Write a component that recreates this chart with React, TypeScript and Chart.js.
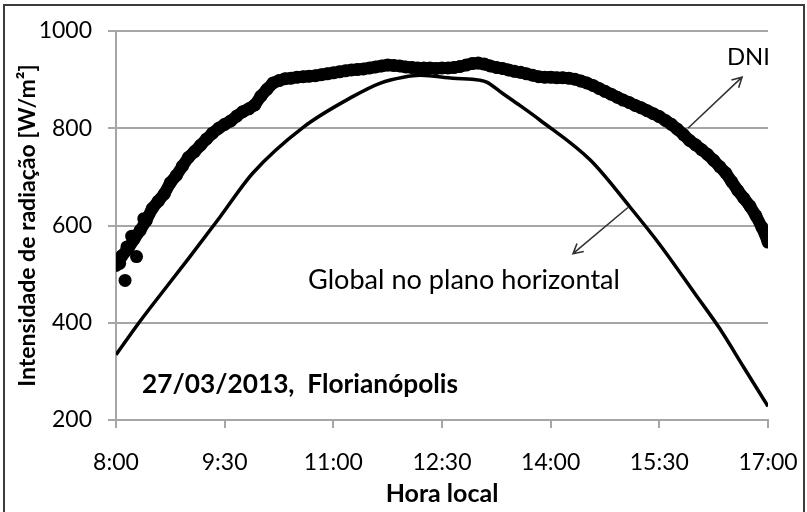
import React, { useEffect, useRef } from 'react';
import { Chart, registerables } from 'chart.js';

Chart.register(...registerables);

// ---- data (time in minutes since midnight) ----
const xMin = 480; // 8:00
const xMax = 1020; // 17:00
const xStep = 90; // 1h30
const yMin = 200;
const yMax = 1000;
const yStep = 200;

const globalTime = [480, 499, 510, 540, 566, 593, 635, 676, 699, 718, 732, 759, 781, 787, 800, 815, 831, 873, 906, 930, 960, 980, 1000, 1020];
const globalValue = [334, 400, 436, 532, 617, 707, 802, 865, 893, 905, 909, 903, 899, 895, 872, 846, 817, 734, 637, 562, 458, 388, 308, 228];

// DNI main band
const dniTime = [
  480, 485, 490, 495, 500, 505,
  510, 515, 520, 525, 530, 535, 540, 545, 550, 555, 560, 565, 570, 575, 580, 585, 590, 595,
  600, 605, 610, 615, 620, 625, 630, 635, 640, 645, 650, 655, 660, 665, 670, 675, 680, 685,
  690, 695, 700, 705, 710, 715, 720, 725, 730, 735, 740, 745, 750, 755, 760, 765, 770, 775,
  780, 785, 790, 795, 800, 805, 810, 815, 820, 825, 830, 835, 840, 845, 850, 855, 860, 865,
  870, 875, 880, 885, 890, 895, 900, 905, 910, 915, 920, 925, 930, 935, 940, 945, 950, 955,
  960, 965, 970, 975, 980, 985, 990, 995, 1000, 1005, 1010, 1015, 1020,
];
const dniValue = [
  518, 538, 552, 572, 590, 610,
  635, 650, 665, 688, 703, 722, 740, 752, 765, 778, 790, 800, 808, 815, 825, 834, 840, 848,
  866, 880, 893, 898, 902, 903, 905, 906, 907, 908, 910, 912, 914, 916, 918, 920, 921, 922,
  924, 926, 928, 930, 929, 928, 926, 925, 924, 924, 924, 923, 924, 924, 925, 927, 930, 933,
  934, 932, 928, 925, 923, 920, 917, 915, 912, 909, 906, 905, 905, 904, 904, 903, 901, 897,
  893, 888, 882, 876, 870, 864, 858, 853, 847, 842, 836, 830, 824, 816, 808, 798, 787, 775,
  766, 756, 746, 734, 721, 708, 690, 672, 656, 640, 620, 596, 566,
];
// DNI scattered readings around the start of the day
const dniExtraTime = [481, 483, 487.5, 489, 493, 497, 503];
const dniExtraValue = [528, 522, 487, 556, 578, 536, 614];

const xAxisTitle = 'Hora local';
const yAxisTitle = 'Intensidade de radiação [W/m²]';

// annotation texts: [text, x(time), baseline y(value), bold, width px]
const annotationTexts: [string, number, number, boolean, number][] = [
  ['DNI', 1003.8, 930, false, 43],
  ['Global no plano horizontal', 768.2, 470, false, 312],
  ['27/03/2013,  Florianópolis', 632.4, 256, true, 316],
];
// arrows: [tailX, tailY, tipX, tipY] in data units
const arrows: [number, number, number, number][] = [
  [953.7, 800, 998.5, 905],
  [904, 637, 858.5, 542],
];

const FONT = 'Lato, "Open Sans", sans-serif';
const GRID = '#a6a6a6';

function fmtTime(v: number) {
  const h = Math.floor(v / 60);
  const m = Math.round(v - h * 60);
  return `${h}:${m < 10 ? '0' : ''}${m}`;
}

const annotPlugin = {
  id: 'annot',
  afterDraw(chart: any) {
    const { ctx, scales } = chart;
    const xs = scales.x;
    const ys = scales.y;
    ctx.save();
    ctx.fillStyle = '#000';
    for (const [text, tx, ty, bold, w] of annotationTexts) {
      const base = 26;
      ctx.font = `${bold ? 'bold ' : ''}${base}px ${FONT}`;
      const mw = ctx.measureText(text).width;
      const size = (base * w) / mw;
      ctx.font = `${bold ? 'bold ' : ''}${size.toFixed(2)}px ${FONT}`;
      ctx.textAlign = 'center';
      ctx.textBaseline = 'alphabetic';
      ctx.fillText(text, xs.getPixelForValue(tx), ys.getPixelForValue(ty));
    }
    ctx.strokeStyle = '#333';
    ctx.lineWidth = 1.6;
    for (const [ax, ay, bx, by] of arrows) {
      const x1 = xs.getPixelForValue(ax);
      const y1 = ys.getPixelForValue(ay);
      const x2 = xs.getPixelForValue(bx);
      const y2 = ys.getPixelForValue(by);
      const ang = Math.atan2(y2 - y1, x2 - x1);
      const hl = 11;
      ctx.beginPath();
      ctx.moveTo(x1, y1);
      ctx.lineTo(x2, y2);
      ctx.moveTo(x2 - hl * Math.cos(ang - 0.5), y2 - hl * Math.sin(ang - 0.5));
      ctx.lineTo(x2, y2);
      ctx.lineTo(x2 - hl * Math.cos(ang + 0.5), y2 - hl * Math.sin(ang + 0.5));
      ctx.stroke();
    }
    // outer frame
    ctx.strokeStyle = '#3c3c3c';
    ctx.lineWidth = 2;
    ctx.strokeRect(4, 5, 800, 520);
    ctx.restore();
  },
};

export default function App() {
  const ref = useRef<HTMLCanvasElement | null>(null);
  useEffect(() => {
    document.body.style.margin = '0';
    const canvas = ref.current;
    if (!canvas) return;
    const chart = new Chart(canvas, {
      type: 'scatter',
      data: {
        datasets: [
          {
            label: 'DNI',
            data: dniTime.map((t, i) => ({ x: t, y: dniValue[i] })),
            showLine: true,
            borderColor: '#000',
            backgroundColor: '#000',
            borderWidth: 12,
            borderJoinStyle: 'round',
            borderCapStyle: 'round',
            pointRadius: 6.5,
            pointBorderWidth: 0,
            tension: 0,
          } as any,
          {
            label: 'DNI (dispersos)',
            data: dniExtraTime.map((t, i) => ({ x: t, y: dniExtraValue[i] })),
            backgroundColor: '#000',
            borderColor: '#000',
            borderWidth: 0,
            pointRadius: 6.5,
          },
          {
            label: 'Global no plano horizontal',
            data: globalTime.map((t, i) => ({ x: t, y: globalValue[i] })),
            showLine: true,
            borderColor: '#000',
            backgroundColor: '#000',
            borderWidth: 3.5,
            pointRadius: 0,
            cubicInterpolationMode: 'monotone',
          } as any,
        ],
      },
      options: {
        responsive: false,
        animation: false,
        devicePixelRatio: 1,
        layout: { padding: { left: 0, top: 31, right: 39, bottom: 0 } },
        plugins: { legend: { display: false }, tooltip: { enabled: false }, title: { display: false } },
        scales: {
          x: {
            type: 'linear',
            min: xMin,
            max: xMax,
            ticks: {
              stepSize: xStep,
              autoSkip: false,
              maxRotation: 0,
              callback: (v: any) => fmtTime(Number(v)),
              font: { family: FONT, size: 23 },
              color: '#000',
              padding: 21,
            },
            grid: { drawOnChartArea: false, drawTicks: true, tickLength: 8, color: GRID, lineWidth: 2 },
            border: { display: true, color: GRID, width: 2 },
            title: {
              display: true,
              text: xAxisTitle,
              font: { family: FONT, size: 25, weight: 'bold' },
              color: '#000',
              padding: { top: 0, bottom: 3 },
            },
            afterFit: (s: any) => {
              s.height = 92;
              s.paddingLeft = 0;
              s.paddingRight = 0;
            },
          },
          y: {
            type: 'linear',
            min: yMin,
            max: yMax,
            ticks: {
              stepSize: yStep,
              callback: (v: any) => String(v),
              font: { family: FONT, size: 23 },
              color: '#000',
              padding: 16,
            },
            grid: { drawTicks: true, tickLength: 8, color: GRID, lineWidth: 2 },
            border: { display: true, color: GRID, width: 2 },
            title: {
              display: true,
              text: yAxisTitle,
              font: { family: FONT, size: 23, weight: 'bold' },
              color: '#000',
              padding: { top: 14, bottom: 0 },
            },
            afterFit: (s: any) => {
              s.width = 116;
              s.paddingTop = 0;
              s.paddingBottom = 0;
            },
          },
        },
      } as any,
      plugins: [annotPlugin],
    });
    return () => chart.destroy();
  }, []);
  return (
    <div style={{ width: 807, height: 512, background: '#fff' }}>
      <canvas ref={ref} width={807} height={512} style={{ display: 'block' }} />
    </div>
  );
}
